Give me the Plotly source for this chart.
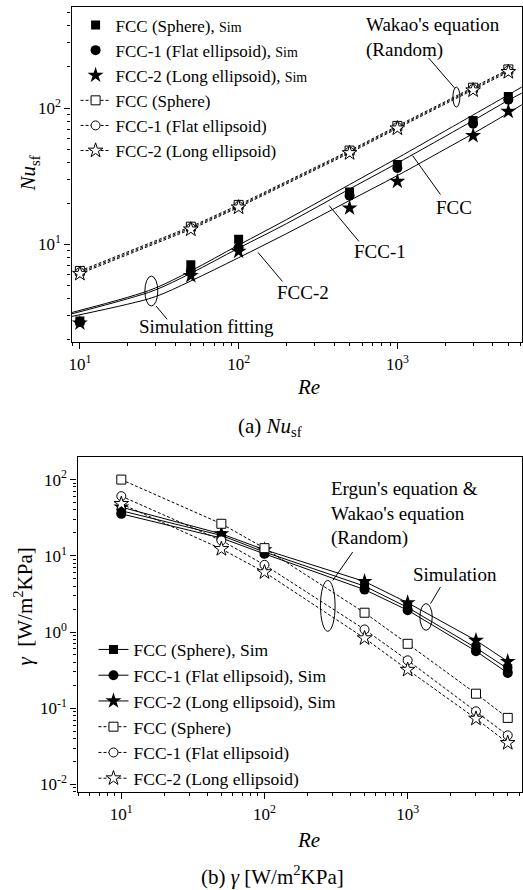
import math
import plotly.graph_objects as go

# ---------------- data ----------------
RE = [10, 50, 100, 500, 1000, 3000, 5000]

# (a) Nusselt number, simulation points
NU_SIM_FCC = [2.75, 7.1, 10.9, 24.2, 38.5, 81.0, 121.6]
NU_SIM_FCC1 = [2.70, 6.4, 9.5, 22.8, 36.4, 76.7, 115.0]
NU_SIM_FCC2 = [2.65, 5.9, 8.9, 18.5, 29.0, 62.7, 94.4]

# (a) Wakao's equation (random packing)
NU_WAKAO_FCC = [6.4, 13.5, 19.5, 48.8, 74.0, 141.0, 192.0]
NU_WAKAO_FCC1 = [6.25, 13.2, 19.1, 47.8, 72.5, 138.0, 188.0]
NU_WAKAO_FCC2 = [6.1, 12.9, 18.7, 46.8, 71.0, 135.0, 184.0]

# (a) simulation fitting curves
RE_FIT = [8.8, 20, 30, 50, 100, 200, 500, 1000, 2000, 3000, 5000, 6100]
NU_FIT_FCC = [3.16, 4.1, 4.8, 6.4, 9.9, 15.2, 27.5, 43.0, 68.0, 89.0, 125.0, 143.0]
NU_FIT_FCC1 = [3.09, 4.0, 4.65, 6.15, 9.4, 14.2, 25.5, 39.5, 62.0, 81.0, 114.0, 129.0]
NU_FIT_FCC2 = [2.96, 3.65, 4.15, 5.4, 8.0, 12.0, 21.0, 32.0, 50.0, 65.0, 92.0, 106.0]

# (b) gamma [W/m2KPa]
G_SIM_FCC = [39.0, 18.5, 11.2, 4.0, 2.10, 0.62, 0.33]
G_SIM_FCC1 = [35.5, 17.1, 10.6, 3.6, 1.93, 0.56, 0.29]
G_SIM_FCC2 = [43.5, 19.4, 12.0, 4.6, 2.42, 0.776, 0.41]
G_RND_FCC = [100.0, 26.3, 12.6, 1.79, 0.70, 0.155, 0.0746]
G_RND_FCC1 = [60.6, 15.9, 7.6, 1.08, 0.425, 0.091, 0.044]
G_RND_FCC2 = [48.0, 12.3, 6.1, 0.83, 0.32, 0.073, 0.035]

NAMES = ["FCC (Sphere)", "FCC-1 (Flat ellipsoid)", "FCC-2 (Long ellipsoid)"]

# ---------------- styling ----------------
W, H = 523, 890
FONT = "Liberation Serif"
BLACK = "black"
SYMS = ["square", "circle", "star"]
FILLED_SIZES = [9, 10, 12]
OPEN_SIZES = [9, 9, 11]
DASH = "3px,2px"


def px(x):
    return x / W


def py(y):
    return 1 - y / H


def sup(e):
    return "10<sup>%d</sup>" % e


def minor_vals(lo, hi):
    vals = []
    for e in range(-3, 5):
        for m in range(2, 10):
            v = m * 10 ** e
            if lo <= v <= hi:
                vals.append(v)
    return vals


fig = go.Figure()

# ---- panel (a) ----
for ys in (NU_FIT_FCC, NU_FIT_FCC1, NU_FIT_FCC2):
    fig.add_trace(go.Scatter(x=RE_FIT, y=ys, mode="lines", line=dict(color=BLACK, width=1, shape="spline"),
                             showlegend=False, hoverinfo="skip", xaxis="x", yaxis="y"))

for name, ys, sym, sz in zip(NAMES, (NU_WAKAO_FCC, NU_WAKAO_FCC1, NU_WAKAO_FCC2), SYMS, OPEN_SIZES):
    fig.add_trace(go.Scatter(x=RE, y=ys, mode="lines+markers", name=name,
                             line=dict(color=BLACK, width=1, dash=DASH),
                             marker=dict(symbol=sym, size=sz, color="white", line=dict(color=BLACK, width=1)),
                             legend="legend", legendrank=2, xaxis="x", yaxis="y"))

for name, ys, sym, sz in zip(NAMES, (NU_SIM_FCC, NU_SIM_FCC1, NU_SIM_FCC2), SYMS, FILLED_SIZES):
    fig.add_trace(go.Scatter(x=RE, y=ys, mode="markers",
                             name=name + ", <span style='font-size:14px'>Sim</span>",
                             marker=dict(symbol=sym, size=sz, color=BLACK, line=dict(color=BLACK, width=0)),
                             legend="legend", legendrank=1, xaxis="x", yaxis="y"))

# ---- panel (b) ----
for name, ys, sym, sz in zip(NAMES, (G_SIM_FCC, G_SIM_FCC1, G_SIM_FCC2), SYMS, FILLED_SIZES):
    fig.add_trace(go.Scatter(x=RE, y=ys, mode="lines+markers", name=name + ", Sim",
                             line=dict(color=BLACK, width=1),
                             marker=dict(symbol=sym, size=sz, color=BLACK, line=dict(color=BLACK, width=0)),
                             legend="legend2", legendrank=1, xaxis="x2", yaxis="y2"))

for name, ys, sym, sz in zip(NAMES, (G_RND_FCC, G_RND_FCC1, G_RND_FCC2), SYMS, OPEN_SIZES):
    fig.add_trace(go.Scatter(x=RE, y=ys, mode="lines+markers", name=name,
                             line=dict(color=BLACK, width=1, dash=DASH),
                             marker=dict(symbol=sym, size=sz, color="white", line=dict(color=BLACK, width=1)),
                             legend="legend2", legendrank=2, xaxis="x2", yaxis="y2"))

# ---------------- axes ----------------
TICKFONT = dict(family=FONT, size=17, color=BLACK)


def log_axis(domain, rng, major, anchor, lo, hi):
    return dict(type="log", domain=domain, range=[math.log10(rng[0]), math.log10(rng[1])], anchor=anchor,
                tickmode="array", tickvals=[10 ** e for e in major], ticktext=[sup(e) for e in major],
                ticks="outside", ticklen=6, tickwidth=1, tickcolor=BLACK,
                minor=dict(tickmode="array", tickvals=minor_vals(lo, hi), ticks="outside", ticklen=3,
                           tickwidth=1, tickcolor=BLACK, showgrid=False),
                showline=True, linecolor=BLACK, linewidth=1.3, mirror=True,
                showgrid=False, zeroline=False, tickfont=TICKFONT)


def mirror_axis(rng, major, overlaying, anchor, side, lo, hi):
    return dict(type="log", range=[math.log10(rng[0]), math.log10(rng[1])], overlaying=overlaying,
                anchor=anchor, side=side, tickmode="array", tickvals=[10 ** e for e in major],
                ticks="inside", ticklen=6, tickwidth=1, tickcolor=BLACK, showticklabels=False,
                minor=dict(tickmode="array", tickvals=minor_vals(lo, hi), ticks="inside", ticklen=3,
                           tickwidth=1, tickcolor=BLACK, showgrid=False),
                showline=False, showgrid=False, zeroline=False)


XA = (8.87, 6070)
YA = (1.92, 548)
XB = (4.95, 6260)
YB = (0.0079, 198)

fig.update_layout(
    xaxis=log_axis([px(69), px(521.7)], XA, [1, 2, 3], "y", *XA),
    yaxis=log_axis([py(343), py(7.3)], YA, [1, 2], "x", *YA),
    xaxis2=log_axis([px(75), px(521.7)], XB, [1, 2, 3], "y2", *XB),
    yaxis2=log_axis([py(794), py(458)], YB, [-2, -1, 0, 1, 2], "x2", *YB),
    xaxis3=mirror_axis(XA, [1, 2, 3], "x", "y", "top", *XA),
    yaxis3=mirror_axis(YA, [1, 2], "y", "x", "right", *YA),
    xaxis4=mirror_axis(XB, [1, 2, 3], "x2", "y2", "top", *XB),
    yaxis4=mirror_axis(YB, [-2, -1, 0, 1, 2], "y2", "x2", "right", *YB),
)

fig.update_layout(
    width=W, height=H, margin=dict(l=0, r=0, t=0, b=0),
    paper_bgcolor="white", plot_bgcolor="white",
    font=dict(family=FONT, color=BLACK),
    legend=dict(x=px(73), y=py(7.5), xanchor="left", yanchor="top", bgcolor="rgba(0,0,0,0)",
                font=dict(family=FONT, size=17, color=BLACK), tracegroupgap=0, itemwidth=30),
    legend2=dict(x=px(91), y=py(633), xanchor="left", yanchor="top", bgcolor="rgba(0,0,0,0)",
                 font=dict(family=FONT, size=17.5, color=BLACK), tracegroupgap=0, itemwidth=30),
)

# ---------------- text ----------------


def text(x, y, s, size=19, xanchor="center", yanchor="middle", angle=0, align="center"):
    fig.add_annotation(x=px(x), y=py(y), xref="paper", yref="paper", text=s, showarrow=False,
                       xanchor=xanchor, yanchor=yanchor, textangle=angle, align=align,
                       font=dict(family=FONT, size=size, color=BLACK))


def line(x0, y0, x1, y1):
    fig.add_shape(type="line", xref="paper", yref="paper", x0=px(x0), y0=py(y0), x1=px(x1), y1=py(y1),
                  line=dict(color=BLACK, width=1))


def ellipse(x0, y0, x1, y1):
    fig.add_shape(type="circle", xref="paper", yref="paper", x0=px(x0), y0=py(y1), x1=px(x1), y1=py(y0),
                  line=dict(color=BLACK, width=1))


# axis titles and captions
text(26, 174, "<i>Nu</i><sub>sf</sub>", size=21, angle=-90)
text(307, 388, "<i>Re</i>", size=21)
text(269, 428, "(a) <i>Nu</i><sub>sf</sub>", size=21)
text(21, 608, "<i>γ</i>  [W/m<sup>2</sup>KPa]", size=21, angle=-90)
text(307, 842, "<i>Re</i>", size=21)
text(271, 877, "(b) <i>γ</i> [W/m<sup>2</sup>KPa]", size=21)

# callouts, panel (a)
text(363, 37.5, "Wakao's equation<br>(Random)", xanchor="left", align="left")
line(428, 58, 454, 88)
ellipse(452.5, 87.3, 459.5, 107.3)
text(454, 208, "FCC")
line(412, 156, 440, 195)
text(379, 252, "FCC-1")
line(328, 206, 358, 242)
text(301.5, 293, "FCC-2")
line(256.5, 253, 281, 282)
text(205, 327.5, "Simulation fitting")
ellipse(142.7, 276.7, 155.7, 306.7)
line(154, 306.7, 165, 320)

# callouts, panel (b)
text(328, 515, "Ergun's equation &amp;<br>Wakao's equation<br>(Random)", xanchor="left", align="left")
ellipse(319.3, 581.7, 334, 632.7)
line(351.7, 553.3, 331.7, 581.7)
text(455, 575.5, "Simulation")
ellipse(419.3, 605, 431.7, 631.7)
line(440, 588.3, 430, 605)

fig.write_html("out.html")
